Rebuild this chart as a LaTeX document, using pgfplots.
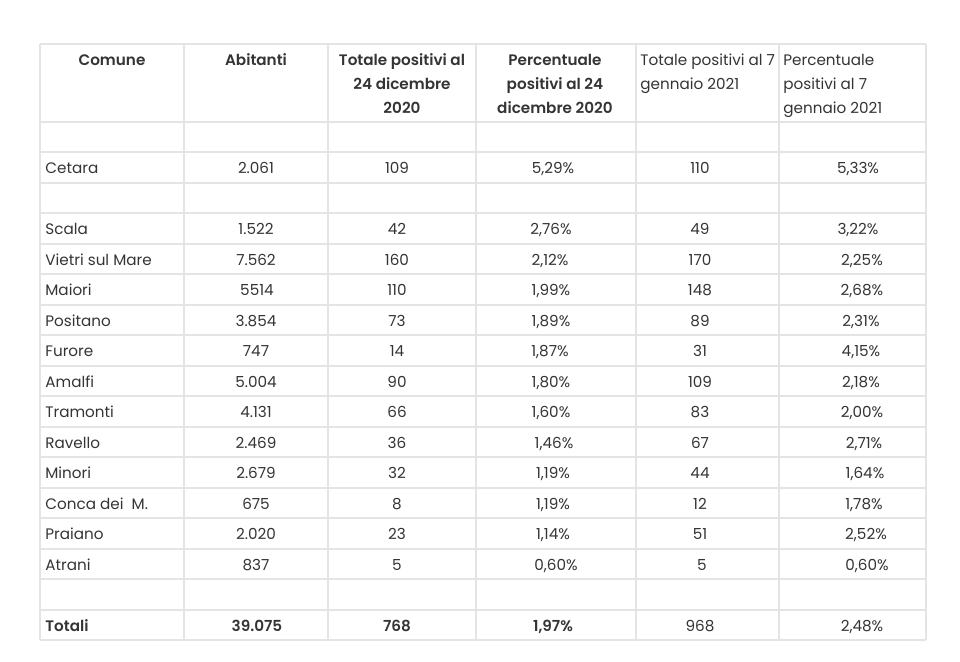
\documentclass[border=0pt]{standalone}
\usepackage{fontspec}
\setmainfont{Poppins}[BoldFont={Poppins SemiBold}]
\usepackage{pgfplots}
\pgfplotsset{compat=1.18}

\definecolor{txt}{RGB}{52,52,52}
\definecolor{rulegray}{RGB}{228,228,228}

% one table cell = one point, its text is the symbolic meta
\pgfplotsset{
  cell/.style={only marks, mark=none, point meta=explicit symbolic, nodes near coords,
    every node near coord/.append style={anchor=base, inner sep=0pt, yshift=-3.1pt,
      text=txt, font=\fontsize{7.6}{9}\selectfont}},
  cellL/.style={cell, every node near coord/.append style={anchor=base west}},
  bold/.style={every node near coord/.append style={font=\fontsize{7.6}{9}\selectfont\bfseries}},
  rule/.style={rulegray, line width=0.8pt, mark=none},
}

\begin{document}
\begin{tikzpicture}
\begin{axis}[
  scale only axis, width=480pt, height=331pt,
  xmin=0, xmax=960, ymin=0, ymax=662, y dir=reverse,
  hide axis, clip=false,
]
% keep the whole page (white margin round the table)
\addplot[draw=none, mark=none] coordinates {(0,0) (960,662)};
% table rules
\pgfplotsinvokeforeach{44,122,152,183,213,244,274,305,335,366,396,427,457,488,518,549,579,610,640}{
  \addplot[rule] coordinates {(40,#1) (926,#1)};
}
\pgfplotsinvokeforeach{40,184,328,476,636,779,926}{
  \addplot[rule] coordinates {(#1,44) (#1,640)};
}

% header
\addplot[cell, bold] table[x=x, y=y, meta=t] {
x y t
112 59 Comune
256 59 Abitanti
402 59 {Totale positivi al}
402 83 {24 dicembre}
402 107 2020
555 59 Percentuale
555 83 {positivi al 24}
555 107 {dicembre 2020}
};
\addplot[cellL] table[x=x, y=y, meta=t] {
x y t
640 59 {Totale positivi al 7}
640 83 {gennaio 2021}
783 59 Percentuale
783 83 {positivi al 7}
783 107 {gennaio 2021}
};

% Comune
\addplot[cellL] table[x=x, y=y, meta=t] {
x y t
45 167 Cetara
45 228 Scala
45 259 {Vietri sul Mare}
45 289 Maiori
45 320 Positano
45 350 Furore
45 381 Amalfi
45 411 Tramonti
45 442 Ravello
45 472 Minori
45 503 {Conca dei\ \ M.}
45 533 Praiano
45 564 Atrani
};
\addplot[cellL, bold] table[x=x, y=y, meta=t] {
x y t
45 625 Totali
};

% Abitanti, positivi and percentage at 24 Dec 2020
\addplot[cell] table[x=x, y=y, meta=t] {
x y t
256 167 2.061
256 228 1.522
256 259 7.562
257 289 5514
256 320 3.854
256 350 747
256 381 5.004
256 411 4.131
256 442 2.469
256 472 2.679
256 503 675
256 533 2.020
256 564 837
397 167 109
397 228 42
397 259 160
397 289 110
397 320 73
397 350 14
397 381 90
397 411 66
397 442 36
397 472 32
397 503 8
397 533 23
397 564 5
553 167 {5,29\%}
551 228 {2,76\%}
550 259 {2,12\%}
551 289 {1,99\%}
551 320 {1,89\%}
550 350 {1,87\%}
551 381 {1,80\%}
551 411 {1,60\%}
554 442 {1,46\%}
553 472 {1,19\%}
553 503 {1,19\%}
553 533 {1,14\%}
556 564 {0,60\%}
};
\addplot[cell, bold] table[x=x, y=y, meta=t] {
x y t
257 625 39.075
397 625 768
553 625 {1,97\%}
};

% positivi and percentage at 7 Jan 2021
\addplot[cell] table[x=x, y=y, meta=t] {
x y t
700 167 110
700 228 49
700 259 170
700 289 148
700 320 89
700 350 31
700 381 109
700 411 83
700 442 67
700 472 44
700 503 12
700 533 51
702 564 5
700 625 968
858 167 {5,33\%}
858 228 {3,22\%}
862 259 {2,25\%}
862 289 {2,68\%}
861 320 {2,31\%}
861 350 {4,15\%}
861 381 {2,18\%}
862 411 {2,00\%}
864 442 {2,71\%}
865 472 {1,64\%}
864 503 {1,78\%}
866 533 {2,52\%}
867 564 {0,60\%}
862 625 {2,48\%}
};
\end{axis}
\end{tikzpicture}
\end{document}
